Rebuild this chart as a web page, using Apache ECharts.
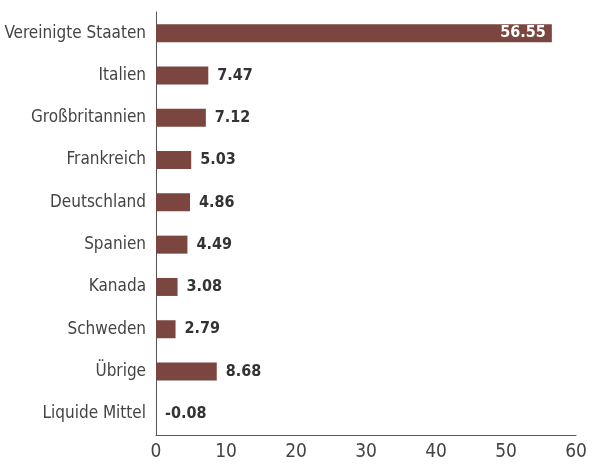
<!DOCTYPE html>
<html><head><meta charset="utf-8">
<script src="https://cdn.jsdelivr.net/npm/echarts@6/dist/echarts.min.js"></script>
<style>html,body{margin:0;padding:0;background:#fff}#c{width:592px;height:464px}</style>
</head><body><div id="c"></div>
<script>
const categories = ["Vereinigte Staaten","Italien","Großbritannien","Frankreich","Deutschland","Spanien","Kanada","Schweden","Übrige","Liquide Mittel"];
const values = [56.55,7.47,7.12,5.03,4.86,4.49,3.08,2.79,8.68,-0.08];
const xTicks = [0,10,20,30,40,50,60];
const FONT = "'DejaVu Sans Condensed','Liberation Sans Narrow',sans-serif";
const chart = echarts.init(document.getElementById('c'), null, {renderer:'canvas'});
chart.setOption({
  animation:false,
  grid:{left:156,right:16,top:12,bottom:29,containLabel:false,outerBoundsMode:'none'},
  xAxis:{type:'value',min:xTicks[0],max:xTicks[xTicks.length-1],interval:10,
    axisLine:{show:true,lineStyle:{color:'#555',width:1}},axisTick:{show:false},splitLine:{show:false},
    axisLabel:{color:'#444',fontSize:19,fontFamily:FONT,margin:8}},
  yAxis:{type:'category',inverse:true,data:categories,
    axisLine:{show:true,lineStyle:{color:'#555',width:1}},axisTick:{show:false},
    axisLabel:{color:'#444',fontSize:17,fontFamily:FONT,margin:10}},
  series:[{type:'bar',data:values.map((v,i)=>({value:v,label:i===0?{position:'insideRight',color:'#fff',distance:6}:{}})),
    barWidth:18,itemStyle:{color:'#7b4640'},
    label:{show:true,position:'right',distance:9,color:'#333',fontWeight:'bold',fontSize:16,fontFamily:FONT,
      formatter:p=>p.value.toFixed(2)}}]
});
</script></body></html>
